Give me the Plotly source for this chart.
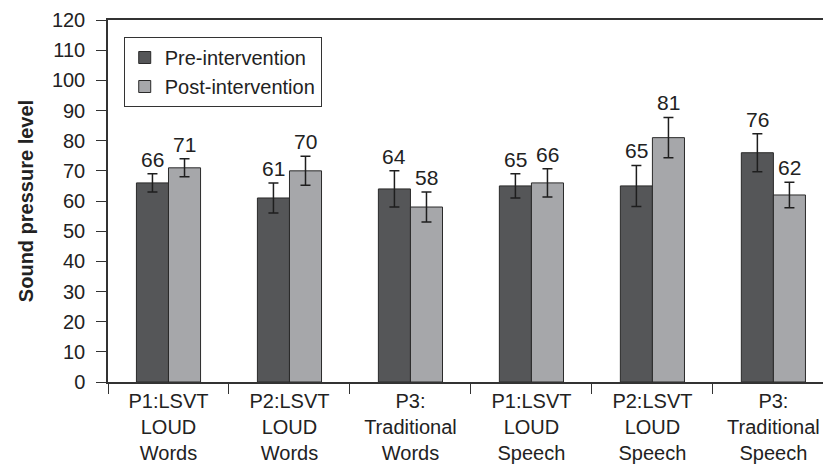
import plotly.graph_objects as go

categories = ["P1:LSVT<br>LOUD<br>Words", "P2:LSVT<br>LOUD<br>Words", "P3:<br>Traditional<br>Words",
              "P1:LSVT<br>LOUD<br>Speech", "P2:LSVT<br>LOUD<br>Speech", "P3:<br>Traditional<br>Speech"]
pre_values = [66, 61, 64, 65, 65, 76]
post_values = [71, 70, 58, 66, 81, 62]
pre_err = [3, 5, 6, 4, 6.8, 6.3]
post_err = [3, 4.8, 5, 4.7, 6.7, 4.2]
y_ticks = list(range(0, 121, 10))

FONT = "Liberation Sans, Arial, sans-serif"
BARGAP = 0.47
bar_w = (1 - BARGAP) / 2

fig = go.Figure()
fig.add_trace(go.Bar(
    name="Pre-intervention", x=categories, y=pre_values,
    marker=dict(color="#555658", line=dict(color="#2a2a2a", width=1)),
    error_y=dict(type="data", array=pre_err, visible=True, color="#1e1e1e", thickness=1.5, width=5),
))
fig.add_trace(go.Bar(
    name="Post-intervention", x=categories, y=post_values,
    marker=dict(color="#a6a7aa", line=dict(color="#2a2a2a", width=1)),
    error_y=dict(type="data", array=post_err, visible=True, color="#1e1e1e", thickness=1.5, width=5),
))

annotations = []
for i, (v, e) in enumerate(zip(pre_values, pre_err)):
    annotations.append(dict(x=i - bar_w / 2, y=v + e, text=str(v), showarrow=False,
                            yanchor="bottom", yshift=1, font=dict(size=21, color="#222", family=FONT)))
for i, (v, e) in enumerate(zip(post_values, post_err)):
    annotations.append(dict(x=i + bar_w / 2, y=v + e, text=str(v), showarrow=False,
                            yanchor="bottom", yshift=1, font=dict(size=21, color="#222", family=FONT)))

fig.update_layout(
    width=823, height=471,
    margin=dict(l=108, r=0, t=20, b=89, autoexpand=False),
    paper_bgcolor="white", plot_bgcolor="white",
    barmode="group", bargap=BARGAP, bargroupgap=0,
    font=dict(family=FONT, color="#222"),
    showlegend=True,
    legend=dict(x=0.022, y=0.953, xanchor="left", yanchor="top",
                bordercolor="#333", borderwidth=1, bgcolor="white",
                font=dict(size=20, family=FONT, color="#222"),
                itemwidth=30, tracegroupgap=0),
    annotations=annotations,
)
fig.update_xaxes(
    range=[-0.5, 5.41], showline=True, linecolor="#333", linewidth=1.5, automargin=False,
    mirror=True, ticks="outside", tickson="boundaries", ticklen=10, tickcolor="#333",
    ticklabeloverflow="allow",
    tickfont=dict(size=20, family=FONT, color="#222"), showgrid=False,
)
fig.update_yaxes(
    range=[0, 120], tickvals=y_ticks, showline=True, linecolor="#333", linewidth=1.5,
    automargin=False,
    ticks="outside", ticklen=10, tickcolor="#333", showgrid=False, zeroline=False,
    tickfont=dict(size=20, family=FONT, color="#222"), ticklabelstandoff=7,
    title=dict(text="<b>Sound pressure level</b>", font=dict(size=20, family=FONT, color="#222"), standoff=13),
)
fig.write_html(
    "out.html",
    config={"displayModeBar": False},
    post_script="document.body.style.margin='0';document.body.style.overflow='hidden';",
)
